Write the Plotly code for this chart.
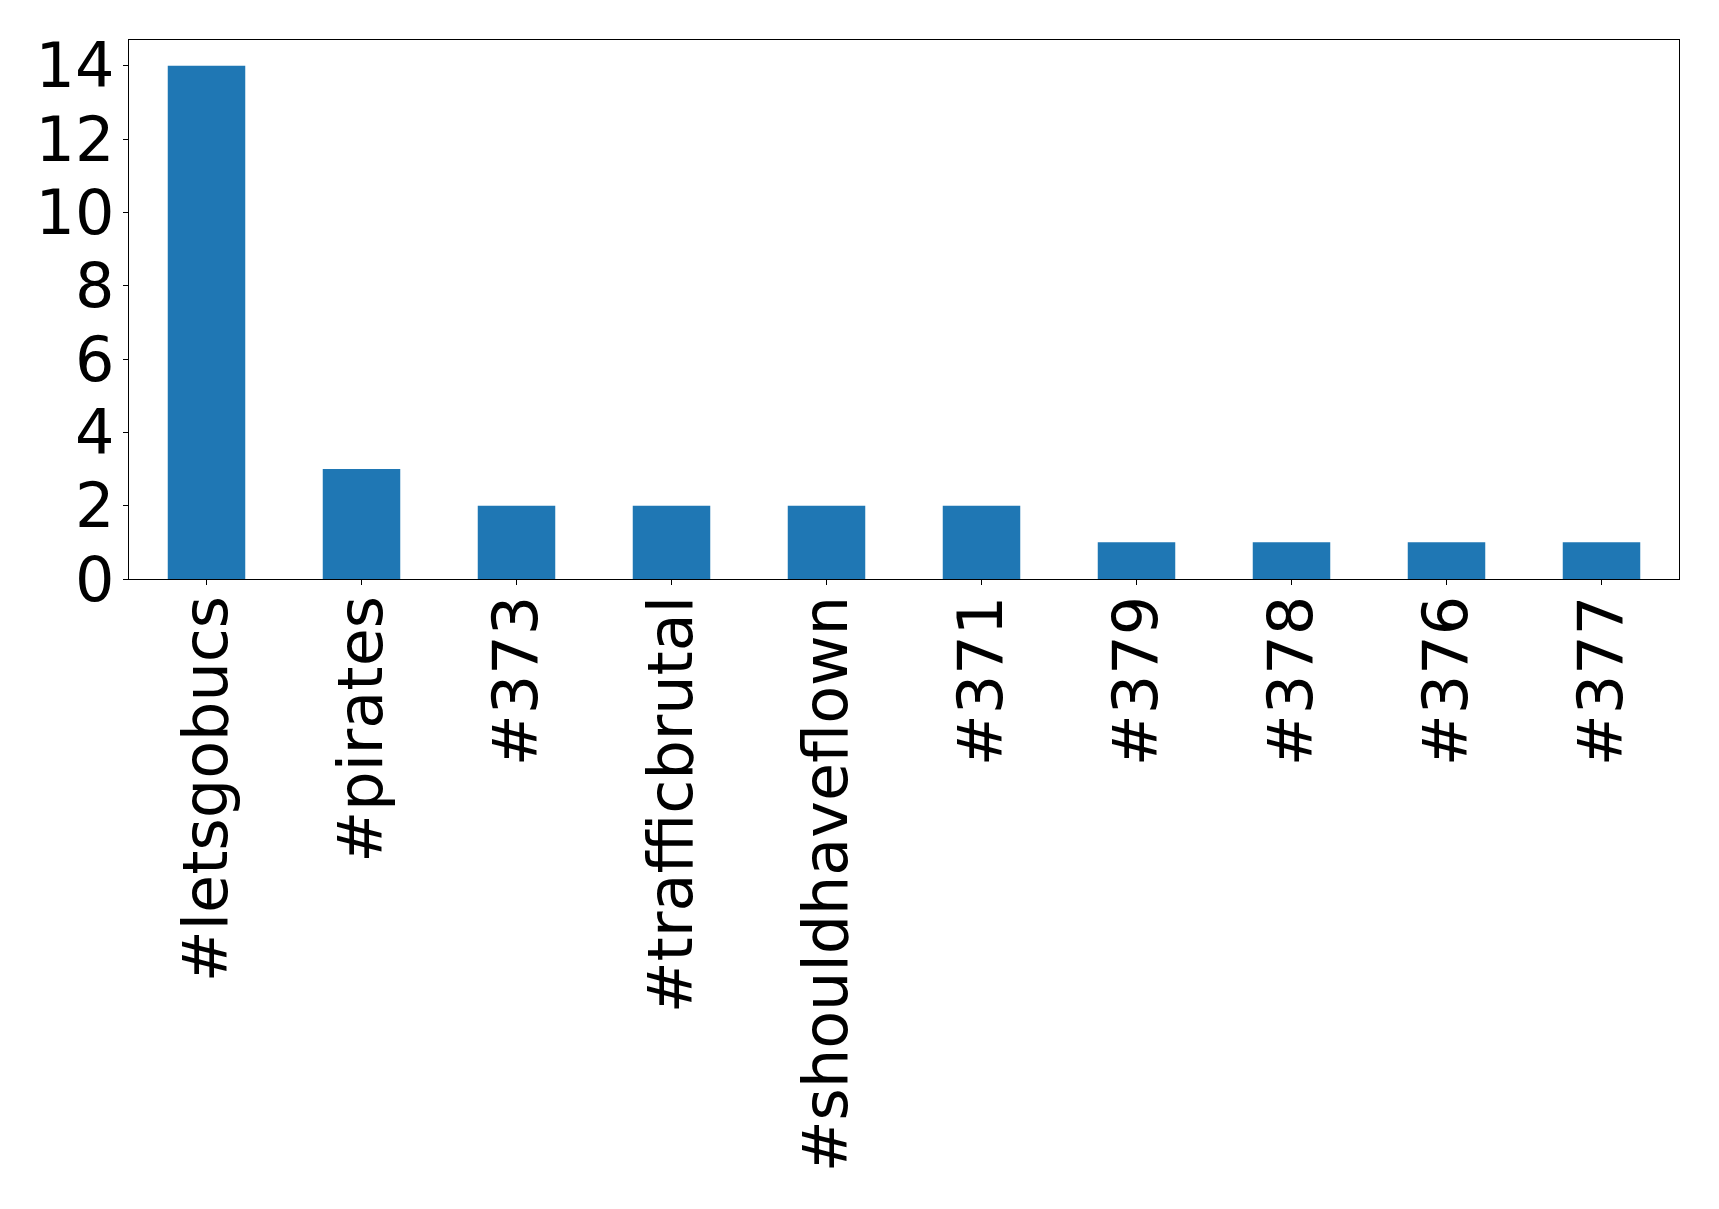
import plotly.graph_objects as go

categories = ["#letsgobucs", "#pirates", "#373", "#trafficbrutal", "#shouldhaveflown",
              "#371", "#379", "#378", "#376", "#377"]
counts = [14, 3, 2, 2, 2, 2, 1, 1, 1, 1]
y_ticks = [0, 2, 4, 6, 8, 10, 12, 14]

fig = go.Figure(go.Bar(x=list(range(len(categories))), y=counts, width=0.5,
                       marker=dict(color="#1f77b4", line=dict(width=0))))

fig.update_layout(
    width=1719, height=1209,
    margin=dict(l=121, r=48, t=32, b=638, autoexpand=False),
    paper_bgcolor="white", plot_bgcolor="white",
    font=dict(family="DejaVu Sans", size=62, color="black"),
    showlegend=False,
)
fig.update_xaxes(
    range=[-0.5, 9.5], tickvals=list(range(len(categories))), ticktext=categories,
    tickangle=-90, ticks="outside", ticklen=5, tickcolor="black",
    ticklabelstandoff=-14,
    showline=True, mirror=True, linecolor="black", linewidth=1.2,
    showgrid=False, zeroline=False,
)
fig.update_yaxes(
    range=[0, 14.7], tickvals=y_ticks, ticks="outside", ticklen=5, tickcolor="black",
    ticklabelstandoff=-4,
    showline=True, mirror=True, linecolor="black", linewidth=1.2,
    showgrid=False, zeroline=False,
)
fig.write_html("out.html")
